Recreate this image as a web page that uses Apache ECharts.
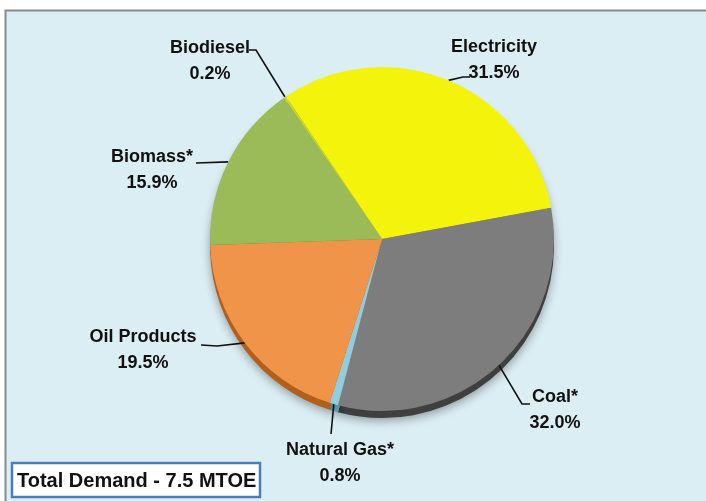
<!DOCTYPE html>
<html>
<head>
<meta charset="utf-8">
<script src="https://cdn.jsdelivr.net/npm/echarts@6/dist/echarts.min.js"></script>
<style>
  html, body { margin: 0; padding: 0; background: #ffffff; }
  #chart { width: 706px; height: 501px; }
</style>
</head>
<body>
<div id="chart"></div>
<script>
// ---- data ----
const categories = ['Electricity', 'Coal*', 'Natural Gas*', 'Oil Products', 'Biomass*', 'Biodiesel'];
const shares = [31.5, 32.0, 0.8, 19.5, 15.9, 0.2];
const totalText = 'Total Demand - 7.5 MTOE';

// ---- styling ----
const topColors = ['#f3f30b', '#7d7d7d', '#93cddd', '#ef9449', '#9bbb59', '#c4d63a'];
const sideColors = ['#a8a800', '#3f3f3f', '#5d9fb2', '#b0601c', '#5f7a2c', '#7f8a20'];
// label block centres and leader-line points (layout only)
const labelSpots = [
  { x: 494, y: 60,  line: [[463, 77], [470, 77]] },
  { x: 555, y: 410, line: [[522, 404], [530, 404]] },
  { x: 340, y: 463, line: [[331, 434], [331, 434]] },
  { x: 143, y: 350, line: [[217, 346], [201, 345]] },
  { x: 152, y: 170, line: [[196, 163], [196, 163]] },
  { x: 210, y: 61,  line: [[256, 50], [249, 50]] }
];

const center = [382, 239];
const radius = 172;
const startAngle = 124;

function buildData(colors) {
  return categories.map((name, i) => ({
    name: name,
    value: shares[i],
    itemStyle: { color: colors[i] }
  }));
}

const chart = echarts.init(document.getElementById('chart'), null, { renderer: 'canvas' });

const option = {
  animation: false,
  backgroundColor: '#ffffff',
  graphic: [
    {
      type: 'rect',
      z: -10,
      shape: { x: 5.5, y: 10.5, width: 720, height: 510 },
      style: { fill: '#dbeef4', stroke: '#8a8a8a', lineWidth: 2 }
    },
    {
      type: 'group',
      z: 100,
      children: [
        {
          type: 'rect',
          shape: { x: 12, y: 463, width: 248, height: 34 },
          style: { fill: '#ffffff', stroke: '#4a7ebb', lineWidth: 2.5 }
        },
        {
          type: 'text',
          x: 17, y: 481,
          style: {
            text: totalText,
            fill: '#111111',
            font: 'bold 20px "Liberation Sans", Arial, sans-serif',
            verticalAlign: 'middle',
            align: 'left'
          }
        }
      ]
    }
  ],
  series: [
    {
      // depth / side of the tilted pie
      type: 'pie',
      silent: true,
      z: 1,
      center: [center[0], center[1] + 7],
      radius: radius,
      startAngle: startAngle,
      clockwise: true,
      label: { show: false },
      labelLine: { show: false },
      itemStyle: {
        shadowBlur: 10,
        shadowColor: 'rgba(0,0,0,0.35)',
        shadowOffsetY: 3
      },
      emphasis: { disabled: true },
      data: buildData(sideColors)
    },
    {
      type: 'pie',
      z: 2,
      center: center,
      radius: radius,
      startAngle: startAngle,
      clockwise: true,
      emphasis: { disabled: true },
      itemStyle: { borderWidth: 0 },
      label: {
        show: true,
        position: 'outside',
        formatter: p => p.name + '\n' + p.value.toFixed(1) + '%',
        fontFamily: '"Liberation Sans", Arial, sans-serif',
        fontWeight: 'bold',
        fontSize: 18,
        lineHeight: 26,
        color: '#111111',
        align: 'center'
      },
      labelLine: {
        show: true,
        length: 10,
        length2: 10,
        lineStyle: { color: '#111111', width: 1.6 }
      },
      labelLayout: function (params) {
        const s = labelSpots[params.dataIndex];
        const pts = params.labelLinePoints;
        const anchor = pts && pts[0] ? pts[0] : s.line[0];
        return {
          x: s.x,
          y: s.y,
          align: 'center',
          verticalAlign: 'middle',
          labelLinePoints: [anchor, s.line[0], s.line[1]]
        };
      },
      data: buildData(topColors)
    }
  ]
};

chart.setOption(option);
</script>
</body>
</html>
